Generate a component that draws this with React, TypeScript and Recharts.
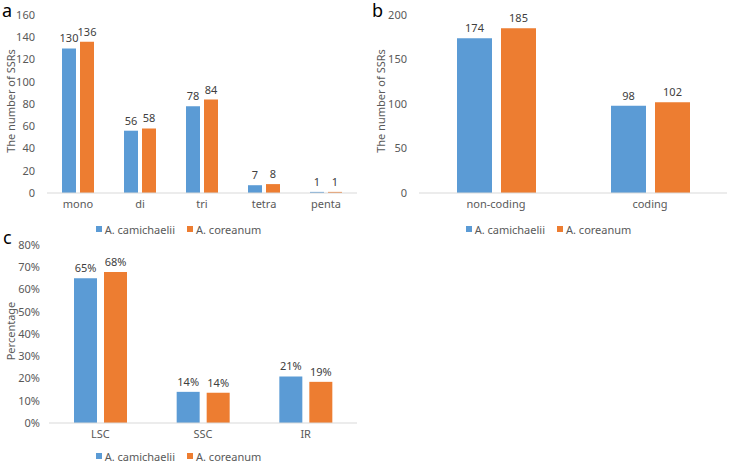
import React from 'react';
import { BarChart, Bar, XAxis, YAxis, Legend, LabelList } from 'recharts';

const seriesNames = ['A. camichaelii', 'A. coreanum'];
const colors = ['#5B9BD5', '#ED7D31'];

const categoriesA = ['mono', 'di', 'tri', 'tetra', 'penta'];
const camichaeliiA = [130, 56, 78, 7, 1];
const coreanumA = [136, 58, 84, 8, 1];
const yTicksA = [0, 20, 40, 60, 80, 100, 120, 140, 160];

const categoriesB = ['non-coding', 'coding'];
const camichaeliiB = [174, 98];
const coreanumB = [185, 102];
const yTicksB = [0, 50, 100, 150, 200];

const categoriesC = ['LSC', 'SSC', 'IR'];
const camichaeliiC = [65.1, 14.0, 20.9];
const coreanumC = [67.9, 13.6, 18.5];
const yTicksC = [0, 10, 20, 30, 40, 50, 60, 70, 80];

const FONT = '"Noto Sans", "Open Sans", sans-serif';
const TEXT = '#595959';

const build = (cats: string[], a: number[], b: number[]) =>
  cats.map((c, i) => ({ name: c, s0: a[i], s1: b[i] }));

const makeLegend = (padTop: number) => (props: any) => {
  const payload = props.payload || [];
  return (
    <div
      style={{
        display: 'flex',
        justifyContent: 'center',
        alignItems: 'center',
        height: '100%',
        paddingTop: padTop,
        boxSizing: 'border-box',
        fontSize: 11,
        lineHeight: '13px',
        color: TEXT,
        fontFamily: FONT,
      }}
    >
      {payload.map((p: any, i: number) => (
        <span key={i} style={{ display: 'inline-flex', alignItems: 'center', marginRight: i === 0 ? 12 : 0 }}>
          <span style={{ width: 6, height: 6, background: p.color, marginRight: 3, display: 'inline-block' }} />
          {p.value}
        </span>
      ))}
    </div>
  );
};

type PanelProps = {
  data: any[];
  ticks: number[];
  yLabel: string;
  width: number;
  marginRight: number;
  yWidth: number;
  tickMargin: number;
  barSize: number;
  barGap: number;
  left: number;
  top: number;
  legendPad: number;
  unit: string;
};

const Panel = (p: PanelProps) => {
  const isPct = p.unit === '%';
  const tickFmt = (v: any) => `${v}${p.unit}`;
  const lblFmt = (v: any) => (isPct ? `${Math.round(Number(v))}%` : `${v}`);
  return (
    <div style={{ position: 'absolute', left: p.left, top: p.top }}>
      <BarChart
        width={p.width}
        height={240}
        data={p.data}
        margin={{ top: 15, right: p.marginRight, left: 0, bottom: 0 }}
        barSize={p.barSize}
        barGap={p.barGap}
      >
        <XAxis
          dataKey="name"
          axisLine={{ stroke: '#D9D9D9' }}
          tickLine={false}
          tickSize={0}
          tickMargin={7}
          height={19}
          tick={{ fontSize: 11, fill: TEXT, fontFamily: FONT }}
        />
        <YAxis
          width={p.yWidth}
          domain={[p.ticks[0], p.ticks[p.ticks.length - 1]]}
          ticks={p.ticks}
          interval={0}
          axisLine={false}
          tickLine={false}
          tickSize={0}
          tickMargin={p.tickMargin}
          tickFormatter={tickFmt}
          tick={{ fontSize: 11, fill: TEXT, fontFamily: FONT }}
          label={{
            value: p.yLabel,
            content: (lp: any) => {
              const vb = lp.viewBox || { x: 0, y: 0, width: 0, height: 0 };
              const x = vb.x + 10;
              const y = vb.y + vb.height / 2 - 3;
              return (
                <text
                  x={x}
                  y={y}
                  transform={`rotate(-90, ${x}, ${y})`}
                  textAnchor="middle"
                  dominantBaseline="central"
                  fontSize={11}
                  fill={TEXT}
                  fontFamily={FONT}
                >
                  {p.yLabel}
                </text>
              );
            },
          }}
        />
        <Legend content={makeLegend(p.legendPad)} verticalAlign="bottom" wrapperStyle={{ height: 28 }} />
        <Bar dataKey="s0" name={seriesNames[0]} fill={colors[0]} isAnimationActive={false}>
          <LabelList dataKey="s0" position="top" offset={6} formatter={lblFmt} style={{ fontSize: 11, fill: '#404040', fontFamily: FONT }} />
        </Bar>
        <Bar dataKey="s1" name={seriesNames[1]} fill={colors[1]} isAnimationActive={false}>
          <LabelList dataKey="s1" position="top" offset={6} formatter={lblFmt} style={{ fontSize: 11, fill: '#404040', fontFamily: FONT }} />
        </Bar>
      </BarChart>
    </div>
  );
};

export default function App() {
  return (
    <div
      style={{
        position: 'absolute',
        left: 0,
        top: 0,
        width: 730,
        height: 464,
        background: '#fff',
        overflow: 'hidden',
        fontFamily: FONT,
      }}
    >
      <Panel
        data={build(categoriesA, camichaeliiA, coreanumA)}
        ticks={yTicksA}
        yLabel="The number of SSRs"
        width={370}
        marginRight={13}
        yWidth={47}
        tickMargin={12}
        barSize={14}
        barGap={4}
        left={0}
        top={0}
        legendPad={6}
        unit=""
      />
      <Panel
        data={build(categoriesB, camichaeliiB, coreanumB)}
        ticks={yTicksB}
        yLabel="The number of SSRs"
        width={360}
        marginRight={3}
        yWidth={49}
        tickMargin={12}
        barSize={35}
        barGap={9}
        left={370}
        top={0}
        legendPad={6}
        unit=""
      />
      <Panel
        data={build(categoriesC, camichaeliiC, coreanumC)}
        ticks={yTicksC}
        yLabel="Percentage"
        width={370}
        marginRight={13}
        yWidth={49}
        tickMargin={9}
        barSize={23}
        barGap={7}
        left={0}
        top={230}
        legendPad={0}
        unit="%"
      />
      <svg width={730} height={464} style={{ position: 'absolute', left: 0, top: 0, pointerEvents: 'none' }}>
        <text x={2} y={17} fontSize={18} fill="#000" fontFamily={FONT}>a</text>
        <text x={372} y={17} fontSize={18} fill="#000" fontFamily={FONT}>b</text>
        <text x={3} y={244} fontSize={18} fill="#000" fontFamily={FONT}>c</text>
      </svg>
    </div>
  );
}
